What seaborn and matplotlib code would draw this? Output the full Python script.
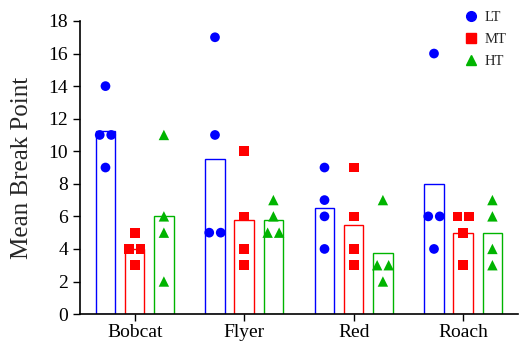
import matplotlib
matplotlib.use("Agg")
import matplotlib.pyplot as plt
from matplotlib.lines import Line2D
import seaborn as sns
import pandas as pd
import numpy as np

categories = ["Bobcat", "Flyer", "Red", "Roach"]
groups = ["LT", "MT", "HT"]
values = {
    ("Bobcat", "LT"): [14, 11, 11, 9],
    ("Bobcat", "MT"): [5, 4, 4, 3],
    ("Bobcat", "HT"): [11, 6, 5, 2],
    ("Flyer", "LT"): [17, 11, 5, 5],
    ("Flyer", "MT"): [10, 6, 4, 3],
    ("Flyer", "HT"): [7, 6, 5, 5],
    ("Red", "LT"): [9, 7, 6, 4],
    ("Red", "MT"): [9, 6, 4, 3],
    ("Red", "HT"): [7, 3, 3, 2],
    ("Roach", "LT"): [16, 6, 6, 4],
    ("Roach", "MT"): [6, 6, 5, 3],
    ("Roach", "HT"): [7, 6, 4, 3],
}
colors = {"LT": "#0000ff", "MT": "#ff0000", "HT": "#00b400"}
markers = {"LT": "o", "MT": "s", "HT": "^"}

rows = []
for (c, g), vals in values.items():
    for v in vals:
        rows.append({"cat": c, "grp": g, "val": v})
df = pd.DataFrame(rows)

sns.set_style("ticks")
plt.rcParams["font.family"] = ["Liberation Serif", "DejaVu Serif"]

fig = plt.figure(figsize=(5.19, 3.44), dpi=100)
ax = fig.add_axes([0.154, 0.087, 0.844, 0.852])

sns.barplot(data=df, x="cat", y="val", hue="grp", order=categories, hue_order=groups,
            palette=colors, errorbar=None, fill=False, gap=0.33, linewidth=1,
            legend=False, ax=ax)

ax.set_ylim(0, 18)
ax.set_xlim(-0.47, 3.45)

n_before = len(ax.collections)
for g in groups:
    sub = df[df["grp"] == g]
    sns.stripplot(data=sub, x="cat", y="val", hue="grp", order=categories, hue_order=groups,
                  palette=colors, dodge=True, jitter=False, marker=markers[g],
                  size=7 if g != "HT" else 7.5, linewidth=0, legend=False, ax=ax)

# spread tied values symmetrically around their group centre
spacing = 0.105
for coll in ax.collections[n_before:]:
    offs = coll.get_offsets().copy()
    if len(offs) == 0:
        continue
    for y in np.unique(offs[:, 1]):
        idx = np.where(offs[:, 1] == y)[0]
        n = len(idx)
        if n > 1:
            cx = offs[idx, 0].mean()
            offs[idx, 0] = cx + (np.arange(n) - (n - 1) / 2) * spacing
    coll.set_offsets(offs)

ax.set_yticks(range(0, 19, 2))
ax.set_xlabel("")
ax.set_ylabel("Mean Break Point", fontsize=18, labelpad=11)
ax.tick_params(axis="both", labelsize=14, length=5, width=1, color="black", labelcolor="black")
ax.tick_params(axis="x", pad=2)
for s in ["left", "bottom"]:
    ax.spines[s].set_color("black")
    ax.spines[s].set_linewidth(1.2)
sns.despine(ax=ax)

handles = [Line2D([], [], linestyle="none", marker=markers[g], color=colors[g],
                  markersize=7, label=g) for g in groups]
ax.legend(handles=handles, loc="upper left", bbox_to_anchor=(0.838, 1.08), frameon=False,
          fontsize=10.5, handletextpad=0.2, labelspacing=0.62, handlelength=1.5)

fig.savefig("out.png", dpi=100)
